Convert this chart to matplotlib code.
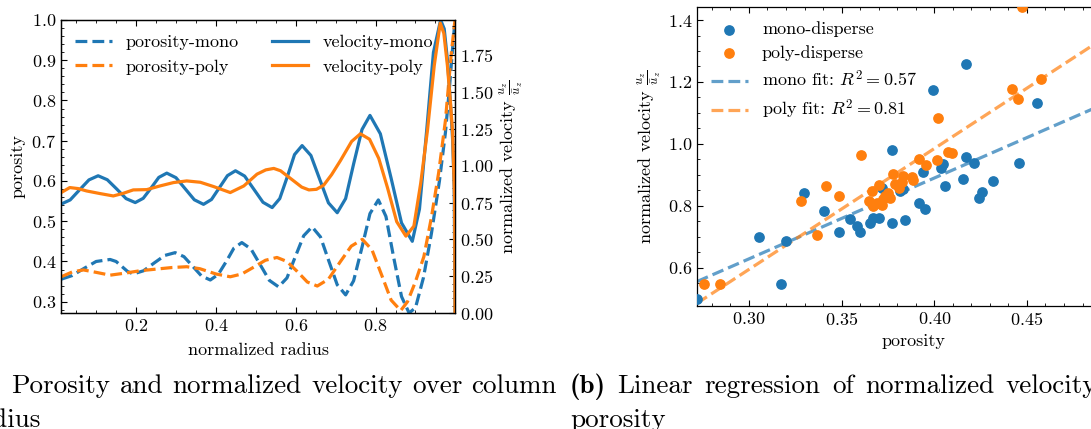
import matplotlib
matplotlib.use("Agg")
import matplotlib.pyplot as plt
from matplotlib.ticker import AutoMinorLocator, MultipleLocator

# ---------------- data: left panel (profiles over normalized radius) -------------
vel_mono_r = [0.0125, 0.035, 0.058, 0.082, 0.105, 0.128, 0.152, 0.175, 0.198, 0.218,
              0.238, 0.257, 0.277, 0.300, 0.323, 0.346, 0.369, 0.389, 0.409, 0.429,
              0.449, 0.472, 0.495, 0.518, 0.541, 0.560, 0.579, 0.597, 0.616, 0.638,
              0.660, 0.682, 0.704, 0.725, 0.745, 0.766, 0.786, 0.812, 0.839, 0.865,
              0.892, 0.910, 0.928, 0.945, 0.963, 0.972, 0.980, 0.987, 0.993, 0.997, 0.999]
vel_mono = [0.740, 0.768, 0.835, 0.904, 0.932, 0.905, 0.841, 0.777, 0.750, 0.779,
            0.850, 0.921, 0.950, 0.919, 0.844, 0.769, 0.738, 0.771, 0.852, 0.933,
            0.966, 0.930, 0.841, 0.752, 0.716, 0.777, 0.926, 1.076, 1.137, 1.070,
            0.909, 0.748, 0.681, 0.777, 1.012, 1.246, 1.342, 1.217, 0.915, 0.612,
            0.487, 0.706, 1.239, 1.770, 1.990, 1.930, 1.720, 1.450, 1.180, 0.850, 0.000]

vel_poly_r = [0.0125, 0.034, 0.055, 0.076, 0.110, 0.143, 0.168, 0.193, 0.227, 0.260,
              0.294, 0.327, 0.361, 0.394, 0.436, 0.470, 0.503, 0.525, 0.545, 0.562,
              0.595, 0.615, 0.633, 0.652, 0.670, 0.690, 0.712, 0.740, 0.762, 0.785,
              0.808, 0.830, 0.853, 0.876, 0.896, 0.913, 0.930, 0.947, 0.962, 0.971,
              0.980, 0.987, 0.993, 0.998, 0.999]
vel_poly = [0.818, 0.852, 0.845, 0.829, 0.811, 0.795, 0.813, 0.836, 0.838, 0.863,
            0.886, 0.897, 0.888, 0.859, 0.818, 0.863, 0.943, 0.972, 0.982, 0.966,
            0.897, 0.855, 0.836, 0.840, 0.868, 0.940, 1.035, 1.165, 1.217, 1.180,
            1.050, 0.850, 0.620, 0.522, 0.590, 0.880, 1.240, 1.680, 1.969, 1.900,
            1.680, 1.450, 1.230, 0.770, 0.000]

por_mono_r = [0.0125, 0.040, 0.070, 0.100, 0.135, 0.150, 0.164, 0.179, 0.193, 0.219,
              0.245, 0.272, 0.298, 0.320, 0.342, 0.364, 0.386, 0.406, 0.426, 0.445,
              0.465, 0.488, 0.511, 0.534, 0.557, 0.578, 0.599, 0.620, 0.641, 0.662,
              0.683, 0.704, 0.725, 0.745, 0.766, 0.786, 0.807, 0.826, 0.845, 0.865,
              0.884, 0.900, 0.920, 0.940, 0.960, 0.975, 0.985, 0.993, 0.999]
por_mono = [0.356, 0.365, 0.383, 0.400, 0.405, 0.400, 0.388, 0.375, 0.369, 0.377,
            0.396, 0.415, 0.422, 0.412, 0.388, 0.364, 0.354, 0.368, 0.400, 0.433,
            0.447, 0.431, 0.392, 0.353, 0.337, 0.359, 0.412, 0.464, 0.486, 0.461,
            0.401, 0.342, 0.317, 0.352, 0.435, 0.519, 0.553, 0.512, 0.412, 0.313,
            0.272, 0.285, 0.360, 0.470, 0.600, 0.720, 0.830, 0.930, 1.000]

por_poly_r = [0.0125, 0.040, 0.068, 0.100, 0.135, 0.172, 0.210, 0.250, 0.290, 0.327,
              0.360, 0.400, 0.436, 0.465, 0.495, 0.524, 0.553, 0.578, 0.604, 0.629,
              0.654, 0.682, 0.710, 0.739, 0.767, 0.791, 0.815, 0.839, 0.863, 0.880,
              0.900, 0.921, 0.940, 0.958, 0.975, 0.990, 0.999]
por_poly = [0.362, 0.374, 0.379, 0.373, 0.366, 0.371, 0.377, 0.381, 0.385, 0.387,
            0.382, 0.369, 0.362, 0.369, 0.386, 0.403, 0.410, 0.400, 0.375, 0.349,
            0.339, 0.356, 0.397, 0.438, 0.455, 0.429, 0.367, 0.304, 0.278, 0.300,
            0.350, 0.412, 0.510, 0.620, 0.750, 0.920, 1.000]

# ---------------- data: right panel (scatter + linear fits) ----------------------
mono_porosity = [0.272, 0.3056, 0.3171, 0.3200, 0.3298, 0.3403, 0.3484, 0.3543, 0.3581,
                 0.3600, 0.3655, 0.3667, 0.3703, 0.3716, 0.3770, 0.3774, 0.3815, 0.3833,
                 0.3844, 0.3917, 0.3941, 0.3950, 0.3993, 0.4036, 0.4049, 0.4058, 0.4153,
                 0.4171, 0.4171, 0.4213, 0.4241, 0.4256, 0.4318, 0.4459, 0.4552]
mono_velocity = [0.500, 0.699, 0.547, 0.688, 0.843, 0.782, 0.715, 0.758, 0.735,
                 0.715, 0.746, 0.760, 0.760, 0.857, 0.746, 0.979, 0.849, 0.853,
                 0.753, 0.809, 0.909, 0.790, 1.173, 0.923, 0.934, 0.864, 0.886,
                 0.958, 1.258, 0.939, 0.825, 0.845, 0.882, 0.940, 1.131]

poly_porosity = [0.2759, 0.2844, 0.3281, 0.3367, 0.3416, 0.3487, 0.3603, 0.3646, 0.3664,
                 0.3667, 0.3689, 0.3704, 0.3716, 0.3725, 0.3734, 0.3753, 0.3760, 0.3775,
                 0.3788, 0.3811, 0.3824, 0.3833, 0.3878, 0.3887, 0.3920, 0.3955, 0.4013,
                 0.4018, 0.4076, 0.4094, 0.4419, 0.4454, 0.4471, 0.4576]
poly_velocity = [0.547, 0.547, 0.817, 0.707, 0.864, 0.832, 0.965, 0.815, 0.847,
                 0.799, 0.810, 0.868, 0.804, 0.822, 0.832, 0.843, 0.825, 0.903,
                 0.870, 0.859, 0.878, 0.897, 0.894, 0.884, 0.952, 0.932, 0.948,
                 1.085, 0.975, 0.972, 1.176, 1.146, 1.441, 1.211]

mono_fit = (2.61, -0.154)   # slope, intercept
poly_fit = (3.90, -0.575)
mono_r2 = "0.57"
poly_r2 = "0.81"

caption_a_label = "(a)"
caption_a = ["Porosity and normalized velocity over column", "radius"]
caption_b_label = "(b)"
caption_b = ["Linear regression of normalized velocity over", "porosity"]

# ---------------- style -------------------------------------------------------------
FS = 13
plt.rcParams.update({
    "font.family": "serif",
    "font.serif": ["cmr10"],
    "mathtext.fontset": "cm",
    "axes.formatter.use_mathtext": True,
    "font.size": FS,
    "axes.linewidth": 0.9,
    "xtick.direction": "in",
    "ytick.direction": "in",
    "xtick.major.size": 4,
    "ytick.major.size": 4,
    "xtick.minor.size": 2,
    "ytick.minor.size": 2,
    "xtick.major.width": 0.8,
    "ytick.major.width": 0.8,
    "xtick.minor.width": 0.6,
    "ytick.minor.width": 0.6,
    "legend.frameon": False,
})

C0 = "#1f77b4"
C1 = "#ff7f0e"
LW = 2.3

W, H = 1091, 429
fig = plt.figure(figsize=(W / 100, H / 100), dpi=100)


def px_axes(left, top, right, bottom):
    return fig.add_axes([left / W, 1 - bottom / H, (right - left) / W, (bottom - top) / H])


# ---------------- left panel ----------------------------------------------------------
ax1 = px_axes(61, 20, 455, 313)
ax2 = ax1.twinx()

l1, = ax1.plot(por_mono_r, por_mono, "--", color=C0, lw=LW, label="porosity-mono")
l2, = ax1.plot(por_poly_r, por_poly, "--", color=C1, lw=LW, label="porosity-poly")
l3, = ax2.plot(vel_mono_r, vel_mono, "-", color=C0, lw=LW, label="velocity-mono")
l4, = ax2.plot(vel_poly_r, vel_poly, "-", color=C1, lw=LW, label="velocity-poly")

ax1.set_xlim(0.012, 0.999)
ax1.set_ylim(0.272, 1.0)
ax2.set_ylim(0.0, 1.99)
ax1.xaxis.set_major_locator(MultipleLocator(0.2))
ax1.xaxis.set_minor_locator(AutoMinorLocator(4))
ax1.yaxis.set_major_locator(MultipleLocator(0.1))
ax1.yaxis.set_minor_locator(AutoMinorLocator(5))
ax2.yaxis.set_major_locator(MultipleLocator(0.25))
ax2.yaxis.set_minor_locator(AutoMinorLocator(5))
ax1.tick_params(which="both", top=True, right=False, left=True, bottom=True)
ax2.tick_params(which="both", right=True, left=False)

ax1.set_xlabel("normalized radius", labelpad=6)
ax1.set_ylabel("porosity", labelpad=4)
ax2.set_ylabel(r"normalized velocity $\frac{u_z}{\bar{u}_z}$", labelpad=3)

ax2.legend(handles=[l1, l2, l3, l4], loc="upper left", ncol=2, fontsize=FS,
           handlelength=2.0, columnspacing=1.8, borderaxespad=0.4)

# ---------------- right panel ---------------------------------------------------------
ax3 = px_axes(697, 7, 1130, 306)
ax3.scatter(mono_porosity, mono_velocity, s=45, color=C0, label="mono-disperse", zorder=3)
ax3.scatter(poly_porosity, poly_velocity, s=45, color=C1, label="poly-disperse", zorder=3)
ax3.set_xlim(0.272, 0.5056)
ax3.set_ylim(0.477, 1.442)
xs = ax3.get_xlim()
ax3.plot(xs, [mono_fit[0] * x + mono_fit[1] for x in xs], "--", color=C0, alpha=0.7,
         lw=LW, label=r"mono fit: $R^2 = %s$" % mono_r2)
ax3.plot(xs, [poly_fit[0] * x + poly_fit[1] for x in xs], "--", color=C1, alpha=0.7,
         lw=LW, label=r"poly fit: $R^2 = %s$" % poly_r2)
ax3.set_xlim(xs)
ax3.xaxis.set_major_locator(MultipleLocator(0.05))
ax3.xaxis.set_minor_locator(AutoMinorLocator(5))
ax3.yaxis.set_major_locator(MultipleLocator(0.2))
ax3.yaxis.set_minor_locator(AutoMinorLocator(4))
ax3.tick_params(which="both", top=True, right=True)
ax3.set_xlabel("porosity", labelpad=4)
ax3.set_ylabel(r"normalized velocity $\frac{u_z}{\bar{u}_z}$", labelpad=3)
ax3.legend(loc="upper left", fontsize=FS, handlelength=2.0, borderaxespad=0.4,
           labelspacing=0.45)

# ---------------- captions (justified first lines, like the LaTeX subcaptions) --------
CAP = 19.5
renderer = fig.canvas.get_renderer()


def justified_line(label, text, x0, x1, ybase):
    items = [(label, "cmb10")] + [(w, "cmr10") for w in text.split()]
    objs = []
    for word, fam in items:
        t = fig.text(0, 1 - ybase / H, word, fontsize=CAP, family=fam,
                     ha="left", va="baseline")
        objs.append(t)
    widths = [t.get_window_extent(renderer).width for t in objs]
    gap = (x1 - x0 - sum(widths)) / (len(objs) - 1)
    x = x0
    for t, w in zip(objs, widths):
        t.set_x(x / W)
        x += w + gap


BASE1, BASE2 = 393, 427
A0, A1 = -32, 557
B0 = 570
B1 = B0 + (A1 - A0)
justified_line(caption_a_label, caption_a[0], A0, A1, BASE1)
fig.text(A0 / W, 1 - BASE2 / H, caption_a[1], fontsize=CAP, ha="left", va="baseline")
justified_line(caption_b_label, caption_b[0], B0, B1, BASE1)
fig.text(B0 / W, 1 - BASE2 / H, caption_b[1], fontsize=CAP, ha="left", va="baseline")

fig.savefig("out.png", dpi=100)
